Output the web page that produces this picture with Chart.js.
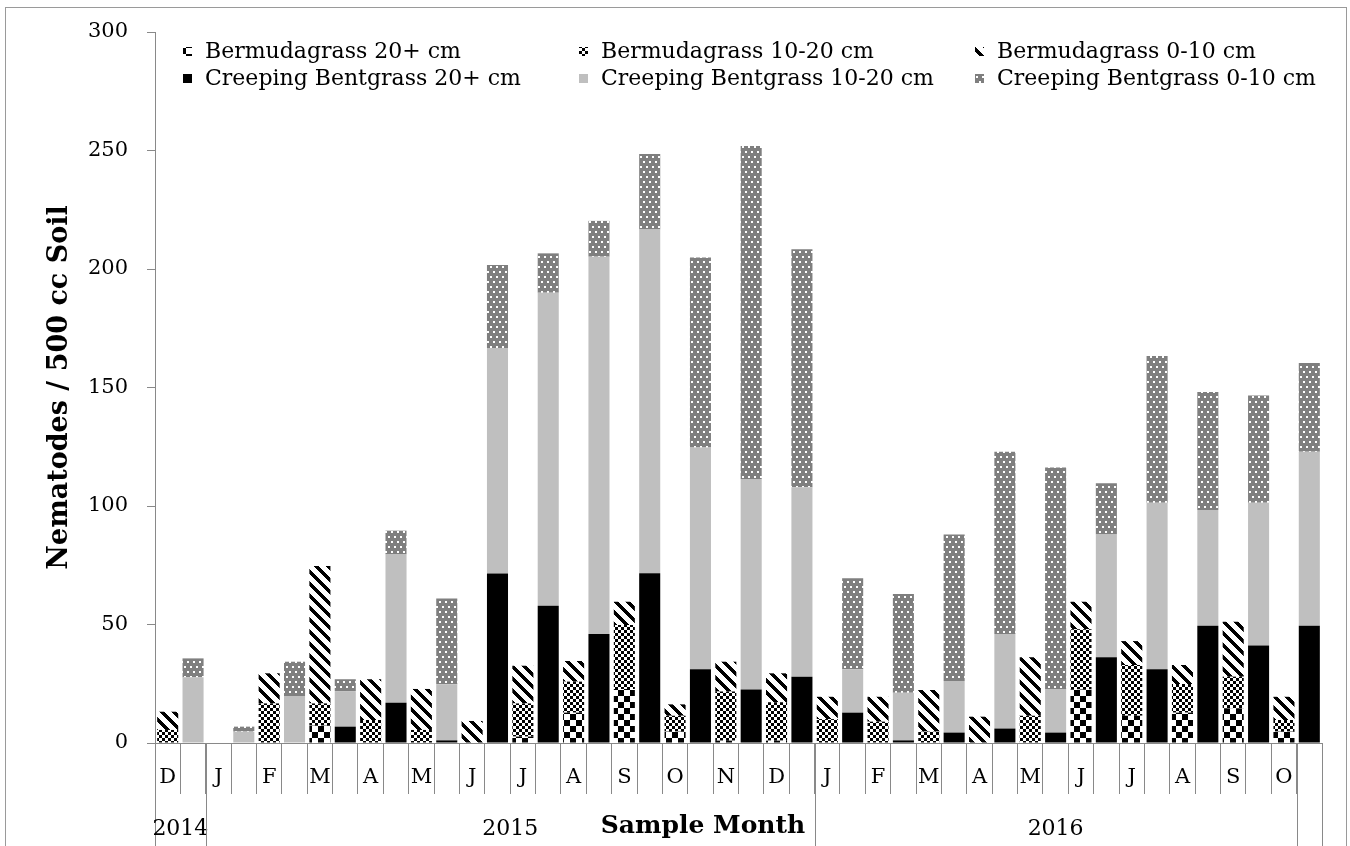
<!DOCTYPE html>
<html>
<head>
<meta charset="utf-8">
<title>Nematodes per sample month</title>
<script src="https://cdn.jsdelivr.net/npm/chart.js@4.4.1/dist/chart.umd.min.js"></script>
<style>
    body { margin: 0; background: #fff; }
    #wrap { width: 1350px; height: 846px; }
</style>
</head>
<body>
<div id="wrap"><canvas id="myChart" width="1350" height="846"></canvas></div>
<script>
const monthLabels = ['D', 'J', 'F', 'M', 'A', 'M', 'J', 'J', 'A', 'S', 'O', 'N', 'D',
                     'J', 'F', 'M', 'A', 'M', 'J', 'J', 'A', 'S', 'O'];

// year groups, given as first/last slot (two slots per month)
const yearLabels = ['2014', '2015', '2016', ''];
const yearFirstSlot = [0, 2, 26, 45];
const yearLastSlot = [1, 25, 44, 45];

const bermuda20 = [0, 0, 0, 7.3, 0, 0, 0, 2.7, 12.8, 22.8, 4.8, 1, 1,
                   0, 0, 0, 0, 0, 22.6, 11.5, 12.8, 14.6, 4.8];
const bermuda10 = [5.5, 0, 16.7, 9.4, 9.7, 5.5, 0, 14, 13.1, 27, 6.7, 20.7, 16.2,
                   10.1, 9, 4.8, 0, 11.5, 25.4, 21.4, 12.1, 13.4, 4.9];
const bermuda0 = [7.7, 0, 12.7, 58, 17.2, 17.3, 9.3, 15.9, 8.7, 9.8, 4.8, 12.6, 12.2,
                  9.4, 10.5, 17.6, 11.1, 24.7, 11.6, 10.1, 8, 23.2, 9.8];

const bent20 = [0, 0, 0, 6.9, 17, 1.1, 71.5, 57.9, 46, 71.6, 31.1, 22.6, 28,
                12.8, 1.1, 4.4, 6.1, 4.4, 36.2, 31.1, 49.5, 41.1, 49.5];
const bent10 = [27.7, 4.8, 19.8, 15, 62.7, 23.7, 95, 132.1, 159.2, 145.1, 93.6, 88.8, 79.9,
                18.3, 20.1, 21.8, 39.9, 18.4, 51.8, 70.3, 48.8, 60.3, 73.4];
const bent0 = [8, 2.1, 14.5, 5, 9.9, 36.2, 35.2, 16.6, 15.1, 31.8, 80.2, 140.5, 100.4,
               38.4, 41.7, 61.8, 76.9, 93.4, 21.6, 61.9, 49.8, 45.2, 37.4];

const seriesNames = ['Bermudagrass 20+ cm', 'Bermudagrass 10-20 cm', 'Bermudagrass 0-10 cm',
                     'Creeping Bentgrass 20+ cm', 'Creeping Bentgrass 10-20 cm', 'Creeping Bentgrass 0-10 cm'];

const serif = '"DejaVu Serif", serif';
const axisGray = '#898989';

// each month gets two slots: bermudagrass first, bentgrass second
const slotLabels = monthLabels.flatMap(m => [m, '']);

function spread(values, side) {
    const out = new Array(slotLabels.length).fill(null);
    values.forEach((v, i) => { out[2 * i + side] = v; });
    return out;
}

function makePattern(w, h, paint) {
    const c = document.createElement('canvas');
    c.width = w;
    c.height = h;
    const g = c.getContext('2d');
    paint(g);
    return g.createPattern(c, 'repeat');
}

const bigChecker = makePattern(12, 12, g => {
    g.fillStyle = '#fff'; g.fillRect(0, 0, 12, 12);
    g.fillStyle = '#000'; g.fillRect(0, 0, 6, 6); g.fillRect(6, 6, 6, 6);
});
const smallChecker = makePattern(6, 6, g => {
    g.fillStyle = '#fff'; g.fillRect(0, 0, 6, 6);
    g.fillStyle = '#000'; g.fillRect(0, 0, 3, 3); g.fillRect(3, 3, 3, 3);
});
const wideStripes = makePattern(12, 12, g => {
    g.fillStyle = '#fff'; g.fillRect(0, 0, 12, 12);
    g.fillStyle = '#000';
    for (let y = 0; y < 12; y++) {
        for (let x = 0; x < 12; x++) {
            if (((x - y) % 12 + 12) % 12 < 5) g.fillRect(x, y, 1, 1);
        }
    }
});
const dottedGray = makePattern(6, 10, g => {
    g.fillStyle = '#7f7f7f'; g.fillRect(0, 0, 6, 10);
    g.fillStyle = '#fff'; g.fillRect(1, 1, 2, 2); g.fillRect(4, 6, 2, 2);
});

const fills = [bigChecker, smallChecker, wideStripes, '#000', '#bfbfbf', dottedGray];
const values = [bermuda20, bermuda10, bermuda0, bent20, bent10, bent0];

const datasets = values.map((vals, i) => ({
    label: seriesNames[i],
    data: spread(vals, i < 3 ? 0 : 1),
    backgroundColor: fills[i],
    borderWidth: 0,
    barPercentage: 0.83,
    categoryPercentage: 1.0,
    stack: 'all'
}));

// legend laid out as a 3 x 2 grid inside the plot
const gridLegend = {
    id: 'gridLegend',
    afterDraw(chart) {
        const ctx = chart.ctx;
        const colX = [183, 579, 975];
        const rowY = [51, 78];
        ctx.save();
        ctx.font = '22px ' + serif;
        ctx.textBaseline = 'middle';
        ctx.textAlign = 'left';
        chart.data.datasets.forEach((ds, i) => {
            const x = colX[i % 3];
            const y = rowY[Math.floor(i / 3)];
            ctx.fillStyle = ds.backgroundColor;
            ctx.fillRect(x, y - 4, 9, 9);
            ctx.fillStyle = '#000';
            ctx.fillText(ds.label, x + 22, y + 1);
        });
        ctx.restore();
    }
};

// second row of the category axis (years), axis title and outer frame
const yearRow = {
    id: 'yearRow',
    afterDraw(chart) {
        const ctx = chart.ctx;
        const x = chart.scales.x;
        const half = (x.getPixelForValue(1) - x.getPixelForValue(0)) / 2;
        ctx.save();
        ctx.strokeStyle = axisGray;
        ctx.lineWidth = 1;
        ctx.fillStyle = '#000';
        ctx.textAlign = 'center';
        ctx.textBaseline = 'middle';
        ctx.font = '22px ' + serif;
        yearLabels.forEach((lab, i) => {
            const l = x.getPixelForValue(yearFirstSlot[i]) - half;
            const r = x.getPixelForValue(yearLastSlot[i]) + half;
            [l, r].forEach(px => {
                const p = Math.round(px) + 0.5;
                ctx.beginPath();
                ctx.moveTo(p, x.top);
                ctx.lineTo(p, chart.height);
                ctx.stroke();
            });
            if (lab) ctx.fillText(lab, (l + r) / 2, x.top + 86);
        });
        ctx.font = 'bold 25px ' + serif;
        ctx.fillText('Sample Month', 703, x.top + 83);
        ctx.strokeStyle = '#9a9a9a';
        ctx.strokeRect(5.5, 7.5, 1341, 900);
        ctx.restore();
    }
};

new Chart(document.getElementById('myChart').getContext('2d'), {
    type: 'bar',
    data: { labels: slotLabels, datasets: datasets },
    options: {
        responsive: false,
        animation: false,
        devicePixelRatio: 1,
        layout: { padding: { left: 5, right: 28, top: 32, bottom: 0 } },
        plugins: {
            legend: { display: false },
            tooltip: { enabled: false }
        },
        scales: {
            x: {
                stacked: true,
                grid: {
                    offset: true,
                    drawOnChartArea: false,
                    tickLength: 51,
                    color: axisGray,
                    tickColor: axisGray
                },
                border: { color: axisGray },
                ticks: {
                    autoSkip: false,
                    maxRotation: 0,
                    padding: -29,
                    color: '#000',
                    font: { family: serif, size: 21 }
                },
                afterFit: s => { s.height = 103; }
            },
            y: {
                stacked: true,
                min: 0,
                max: 300,
                grid: {
                    drawOnChartArea: false,
                    tickLength: 8,
                    color: axisGray,
                    tickColor: axisGray
                },
                border: { color: axisGray },
                ticks: {
                    stepSize: 50,
                    padding: 19,
                    color: '#000',
                    font: { family: serif, size: 21 }
                },
                title: {
                    display: true,
                    text: 'Nematodes / 500 cc Soil',
                    color: '#000',
                    font: { family: serif, size: 27, weight: 'bold' },
                    padding: { top: 39, bottom: 0 }
                },
                afterFit: s => { s.width = 150; }
            }
        }
    },
    plugins: [gridLegend, yearRow]
});
</script>
</body>
</html>
